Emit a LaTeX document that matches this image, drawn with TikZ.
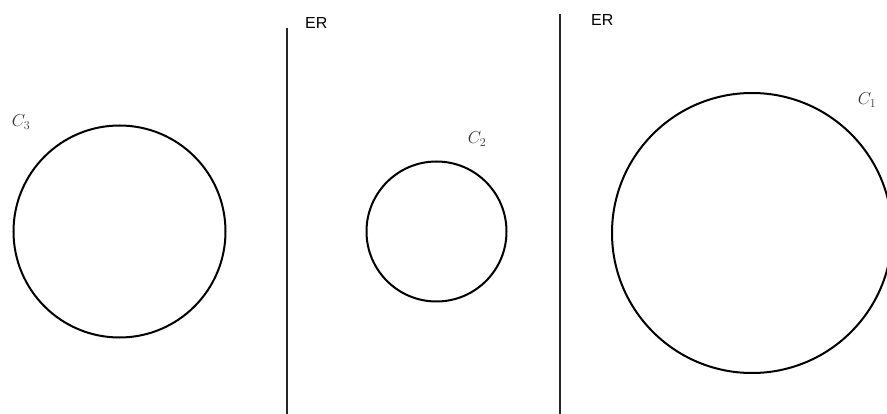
\documentclass[tikz,border=0pt]{standalone}
\usepackage{fontspec}
\usepackage{amsmath}
\newfontfamily\labelfont{Liberation Sans}
\usetikzlibrary{positioning}
\tikzset{
    ring/.style={circle, draw=black, line width=2pt, inner sep=0pt},
    wall/.style={line width=2.2pt, draw=black!85},
    regionlabel/.style={font=\labelfont\fontsize{16}{18}\selectfont, inner sep=0pt, anchor=west},
    circlelabel/.style={font=\fontsize{18}{20}\selectfont, inner sep=0pt, text=black!80}
}
\begin{document}
\begin{tikzpicture}[x=1pt, y=-1pt]
            \useasboundingbox (0,0) rectangle (887,414);

            % circles
            \node[ring, minimum size=212pt] (c3) at (119.5,231.5) {};
            \node[ring, minimum size=140pt] (c2) at (436.5,231.5) {};
            \node[ring, minimum size=280pt] (c1) at (752,233) {};

            % separating lines
            \coordinate (w1top) at (287,28);
            \coordinate (w1bot) at (287,414);
            \coordinate (w2top) at (560,14);
            \coordinate (w2bot) at (560,414);
            \draw[wall] (w1top) -- (w1bot);
            \draw[wall] (w2top) -- (w2bot);

            % labels
            \node[regionlabel] (er1) at (305,23) {ER};
            \node[regionlabel] (er2) at (591,20) {ER};
            \node[circlelabel] (l3) at (21,122) {$C_3$};
            \node[circlelabel] (l2) at (477,139) {$C_2$};
            \node[circlelabel] (l1) at (867,100) {$C_1$};
        \end{tikzpicture}
\end{document}
